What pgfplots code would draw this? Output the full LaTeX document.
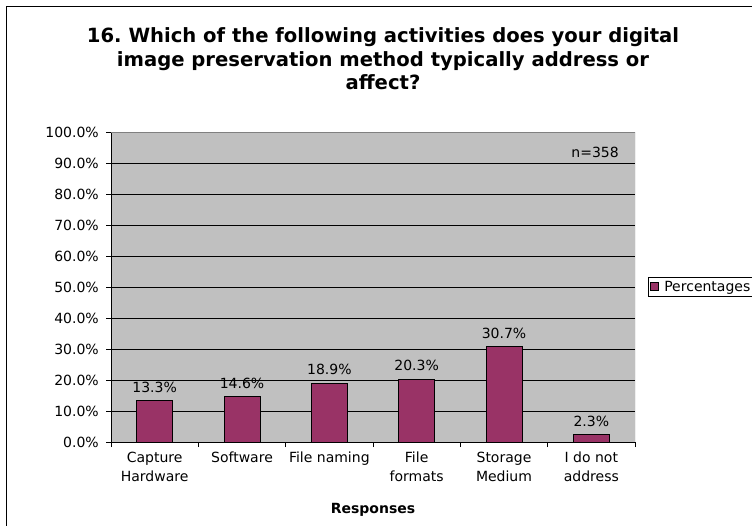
\documentclass[border=0pt]{standalone}
\usepackage{pgfplots}
\pgfplotsset{compat=1.18}
\usepackage{fontspec}
\setmainfont{DejaVu Sans}
\definecolor{barplum}{HTML}{993366}
\definecolor{plotgray}{HTML}{C0C0C0}
\definecolor{edgegray}{HTML}{808080}

\newcommand{\lbl}{\fontsize{14}{19}\selectfont}

\begin{document}
\frenchspacing
\begin{tikzpicture}[x=1pt,y=1pt]
\useasboundingbox (0,0) rectangle (752,-525);
\clip (0,0) rectangle (752,-525);
% chart frame
\draw[line width=1pt] (6.5,-6.5) rectangle (780,-545);
% title
\begin{scope}[every node/.style={anchor=base,font=\fontsize{19.6}{23}\selectfont\bfseries,inner sep=0pt}]
\node at (383,-42) {16. Which of the following activities does your digital};
\node at (383,-66) {image preservation method typically address or};
\node at (383,-89) {affect?};
\end{scope}

\begin{axis}[
  at={(111pt,-442pt)}, anchor=south west,
  scale only axis, width=524pt, height=310pt,
  xmin=-0.5, xmax=5.5, ymin=0, ymax=100,
  axis lines=left, axis line style={-, line width=1pt, black},
  axis background/.style={fill=plotgray},
  ytick={0,10,...,100},
  yticklabel={\pgfmathprintnumber[fixed,fixed zerofill,precision=1]{\tick}\%},
  /pgf/number format/assume math mode=true,
  yticklabel style={font=\lbl, inner sep=1pt, xshift=-6pt},
  ymajorgrids, grid style={black, line width=0.9pt},
  tick align=outside, major tick length=5pt, minor tick length=5pt,
  tick style={black, line width=1pt},
  xtick={0,...,5},
  xticklabels={{Capture\\Hardware},{Software},{File naming},{File\\formats},{Storage\\Medium},{I do not\\address}},
  xticklabel style={font=\lbl, align=center, anchor=north, inner sep=0pt, yshift=-5pt},
  major x tick style={draw=none},
  minor xtick={-0.5,0.5,...,5.5},
  xlabel={\bfseries Responses},
  xlabel style={font=\fontsize{14}{17}\selectfont, anchor=base, at={(axis description cs:0.5,0)}, yshift=-71pt},
  ybar, bar width=36pt,
  nodes near coords={\pgfmathprintnumber[fixed,fixed zerofill,precision=1]{\pgfplotspointmeta}\%},
  nodes near coords style={font=\lbl, anchor=base, inner sep=0pt, yshift=8.5pt, black},
  legend style={at={(1.0248,0.532)}, anchor=north west, draw=black, fill=white,
    font=\lbl, inner sep=1.5pt, line width=0.8pt},
  legend image code/.code={%
    \draw[fill=barplum, draw=black, line width=0.8pt] (0pt,-4pt) rectangle (8pt,4pt);
    \path[draw=none, fill=none] (0pt,0pt) -- (12pt,0pt);},
]
\addplot[fill=barplum, draw=black, line width=1pt] coordinates {
  (0,13.3) (1,14.6) (2,18.9) (3,20.3) (4,30.7) (5,2.3)
};
\addlegendentry{Percentages}
\draw[edgegray, line width=0.8pt] (rel axis cs:0,1) -- (rel axis cs:1,1) -- (rel axis cs:1,0);
\end{axis}

\node[anchor=base east, font=\lbl, inner sep=0pt] at (619,-157) {n=358};
\end{tikzpicture}
\end{document}
